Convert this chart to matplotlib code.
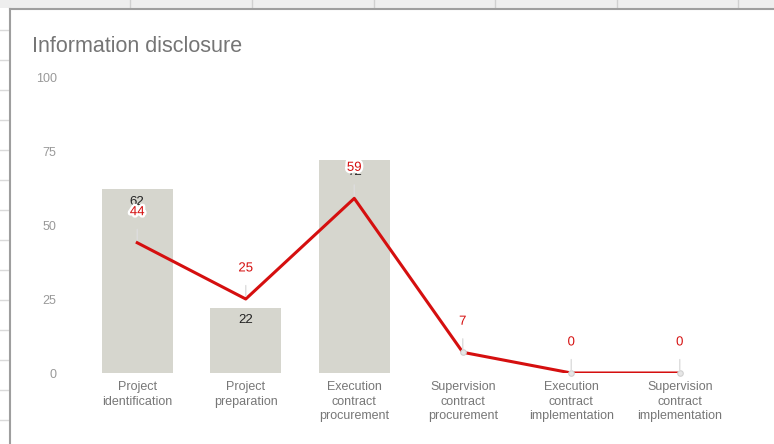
import matplotlib.pyplot as plt
import matplotlib.patheffects as pe
from matplotlib.lines import Line2D
from matplotlib.patches import Rectangle

plt.rcParams['font.family'] = ['Liberation Sans', 'DejaVu Sans']

# Daten
etapas = ['Project\nidentification', 'Project\npreparation', 'Execution\ncontract\nprocurement',
          'Supervision\ncontract\nprocurement', 'Execution\ncontract\nimplementation',
          'Supervision\ncontract\nimplementation']
barras = [62, 22, 72, 0, 0, 0]
linha = [44, 25, 59, 7, 0, 0]
yticks = [0, 25, 50, 75, 100]

W, H = 774, 444
fig = plt.figure(figsize=(W / 100, H / 100), dpi=100)
fig.patch.set_facecolor('white')

# fundo de planilha (linhas de grade da folha)
fig.patches.append(Rectangle((0, 1 - 8 / H), 1, 8 / H, transform=fig.transFigure,
                             facecolor='#eeeeee', edgecolor='none', zorder=0))
for x in [130, 252, 374, 495, 617, 738]:
    fig.lines.append(Line2D([x / W, x / W], [1 - 8 / H, 1], transform=fig.transFigure,
                            color='#d0d0d0', lw=1))
for y in range(30, H, 30):
    fig.lines.append(Line2D([0, 9 / W], [1 - y / H, 1 - y / H], transform=fig.transFigure,
                            color='#dadada', lw=1))
fig.lines.append(Line2D([10 / W, 10 / W], [0, 1 - 9 / H], transform=fig.transFigure,
                        color='#9e9e9e', lw=1.5))
fig.lines.append(Line2D([10 / W, 1], [1 - 9 / H, 1 - 9 / H], transform=fig.transFigure,
                        color='#9e9e9e', lw=1.5))

ax = fig.add_axes([83 / W, 1 - 373 / H, (734 - 83) / W, (373 - 77) / H])
x = list(range(len(etapas)))

ax.bar(x, barras, width=0.65, color='#d6d6ce', zorder=1)
for xi, v in zip(x, barras):
    if v > 0:
        ax.annotate(str(v), (xi, v), xytext=(0, -9), textcoords='offset points',
                    ha='center', va='center', fontsize=9.5, color='#222222', zorder=2)

ax.plot(x, linha, color='#d50f0f', lw=2.2, zorder=3)
halo = [pe.withStroke(linewidth=3.5, foreground='white')]
for xi, v in zip(x, linha):
    ax.annotate(str(v), (xi, v), xytext=(0, 22), textcoords='offset points',
                ha='center', va='center', fontsize=9.5, color='#d50f0f', zorder=5,
                path_effects=halo,
                arrowprops=dict(arrowstyle='-', color='#dddddd', lw=1, shrinkA=6, shrinkB=2))
    if v < 10:
        ax.plot(xi, v, 'o', ms=4, mfc='#e6e6e6', mec='#d0d0d0', mew=0.8, zorder=4, clip_on=False)

ax.set_xlim(-0.5, len(etapas) - 0.5)
ax.set_ylim(0, 100)
ax.set_yticks(yticks)
ax.set_xticks(x)
ax.set_xticklabels(etapas, fontsize=9, color='#777777', linespacing=1.25)
ax.tick_params(axis='y', length=0, pad=19, labelsize=9, labelcolor='#999999')
ax.tick_params(axis='x', length=0, pad=6)
for s in ax.spines.values():
    s.set_visible(False)

fig.text(32 / W, 1 - 52 / H, 'Information disclosure', fontsize=15.5, color='#757575',
         va='baseline', ha='left')

plt.savefig('out.png', dpi=100)
